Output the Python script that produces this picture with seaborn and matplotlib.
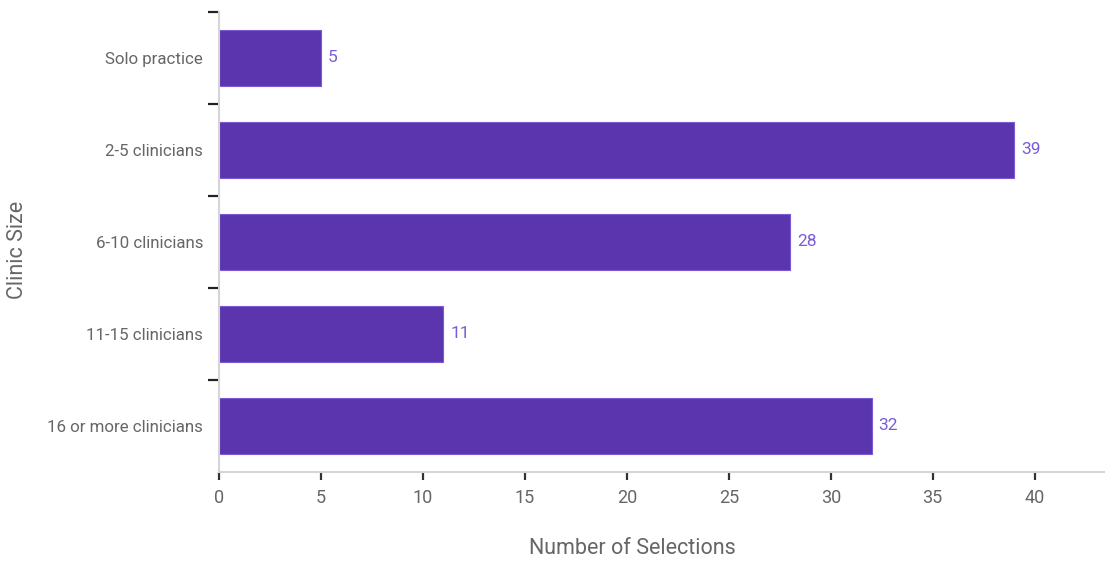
import matplotlib
matplotlib.use("Agg")
import matplotlib.pyplot as plt
import seaborn as sns
import pandas as pd
import numpy as np

categories = ["Solo practice", "2-5 clinicians", "6-10 clinicians", "11-15 clinicians", "16 or more clinicians"]
values = [5, 39, 28, 11, 32]
x_ticks = [0, 5, 10, 15, 20, 25, 30, 35, 40]

sns.set_theme(style="white")
plt.rcParams['font.family'] = ['Roboto', 'DejaVu Sans']

df = pd.DataFrame({"Clinic Size": categories, "Number of Selections": values})

fig = plt.figure(figsize=(11.09, 5.61), dpi=100)
ax = fig.add_axes([219/1109, 1 - 472/561, (1104 - 219)/1109, (472 - 12)/561])

bar_color = "#5b35ad"
sns.barplot(data=df, y="Clinic Size", x="Number of Selections", orient="h",
            color=bar_color, width=0.61, saturation=1, ax=ax, edgecolor="#7a5ad0", linewidth=0.8)

for c in ax.containers:
    ax.bar_label(c, padding=5, color="#7b5cd6", fontsize=12.5)

ax.set_xlim(0, 43.4)
ax.set_ylim(4.5, -0.5)
ax.set_xticks(x_ticks)
ax.set_xticklabels([str(t) for t in x_ticks])

ax.set_yticks(np.arange(len(categories)))
ax.set_yticklabels(categories)
ax.set_yticks(np.arange(-0.5, len(categories) - 1, 1.0), minor=True)
ax.tick_params(axis="y", which="major", length=0, pad=11.5, labelsize=12.2, labelcolor="#666666")
ax.tick_params(axis="y", which="minor", left=True, length=8, width=1.6, color="#222222", direction="out")
ax.tick_params(axis="x", which="major", bottom=True, length=6, width=1.6, color="#333333",
               direction="out", pad=6, labelsize=13, labelcolor="#666666")

for s in ["top", "right"]:
    ax.spines[s].set_visible(False)
for s in ["left", "bottom"]:
    ax.spines[s].set_color("#d4d4da")
    ax.spines[s].set_linewidth(1.5)

ax.set_xlabel("Number of Selections", fontsize=15.5, color="#666666")
ax.xaxis.label.set_va("center")
ax.xaxis.set_label_coords((632 - 219) / (1104 - 219), -(549 - 472) / 460)
ax.set_ylabel("Clinic Size", fontsize=15.5, color="#666666")
ax.yaxis.label.set_va("center")
ax.yaxis.set_label_coords(-(219 - 18) / (1104 - 219), (472 - 250) / 460)

fig.savefig("out.png", dpi=100)
